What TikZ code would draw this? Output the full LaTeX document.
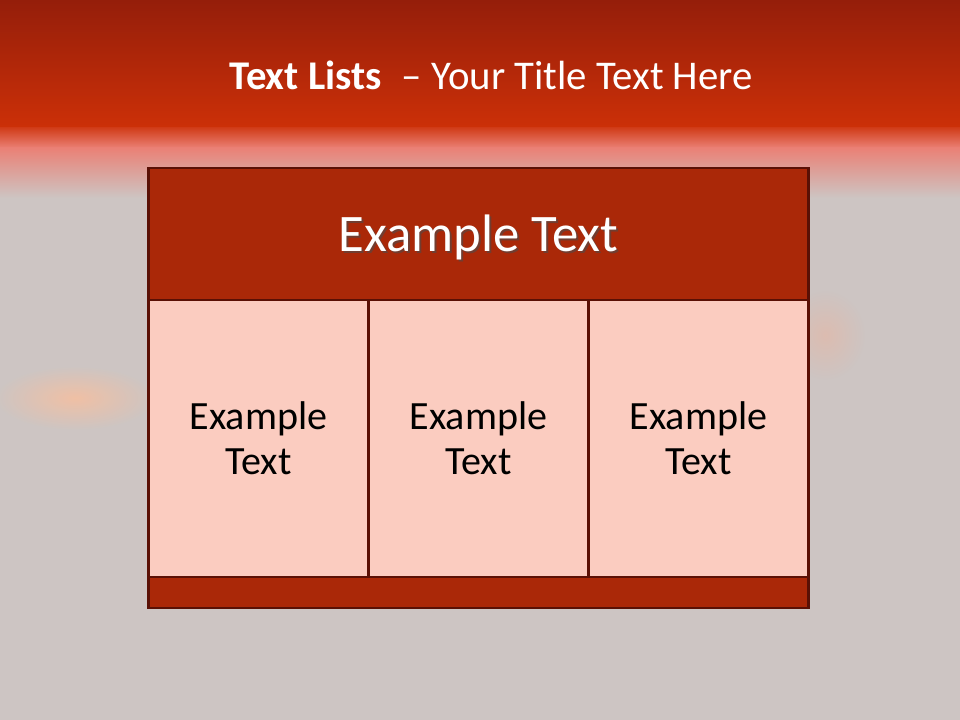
\documentclass[tikz,border=0pt]{standalone}
\usepackage{fontspec}
\setmainfont{Carlito}
\usetikzlibrary{positioning,calc}
\definecolor{fundo}{HTML}{CDC5C3}
\definecolor{topo}{HTML}{951E0A}
\definecolor{faixa}{HTML}{CC3008}
\definecolor{rosa}{HTML}{EA8075}
\definecolor{tijolo}{HTML}{AA2808}
\definecolor{borda}{HTML}{5A1005}
\definecolor{celula}{HTML}{FBCCC0}
\definecolor{brilho}{HTML}{FFBE98}

\begin{document}
\begin{tikzpicture}[
    x=0.025cm, y=-0.025cm,
    cabecalho/.style={
        rectangle,
        draw=borda,
        line width=2pt,
        fill=tijolo,
        minimum width=16.5cm,
        minimum height=3.3cm,
        inner sep=0pt
    },
    celulabox/.style={
        rectangle,
        draw=borda,
        line width=2pt,
        fill=celula,
        minimum width=5.5cm,
        minimum height=6.925cm,
        align=center,
        inner sep=0pt,
        font=\fontsize{28.5}{32}\selectfont
    },
    rodape/.style={
        rectangle,
        draw=borda,
        line width=2pt,
        fill=tijolo,
        minimum width=16.5cm,
        minimum height=0.775cm,
        inner sep=0pt
    },
    sombra/.style={text=black!70, opacity=0.6}
]
\useasboundingbox (0,0) rectangle (960,720);

% FUNDO E FAIXA DO TITULO
\fill[fundo] (0,0) rectangle (960,720);
\shade[top color=topo, bottom color=faixa] (0,0) rectangle (960,128);
\shade[top color=faixa!85!rosa, bottom color=rosa] (0,127.5) rectangle (960,148);
\shade[top color=rosa, bottom color=fundo] (0,147.5) rectangle (960,198);

% BRILHOS DO CEU
\shade[inner color=brilho, outer color=fundo, opacity=0.7] (75,398) ellipse [x radius=80, y radius=32];
\shade[inner color=brilho!70!rosa, outer color=fundo, opacity=0.35] (825,335) ellipse [x radius=40, y radius=45];

% TITULO
\node[text=white, font=\fontsize{29}{32}\selectfont] (titulo) at (491,75)
    {\textbf{Text Lists}\enspace – Your Title Text Here};

% TABELA
\node[cabecalho] (cabeca) at (478.5,234) {};
\node[sombra, font=\fontsize{37.5}{40}\selectfont] at ($(cabeca)+(2,5)$) {Example Text};
\node[text=white, font=\fontsize{37.5}{40}\selectfont] (cabecatexto) at ($(cabeca)+(0,3)$) {Example Text};

\node[celulabox] (cel1) at (258.5,438.5) {Example\\Text};
\node[celulabox] (cel2) at (478.5,438.5) {Example\\Text};
\node[celulabox] (cel3) at (698.5,438.5) {Example\\Text};

\node[rodape] (base) at (478.5,592.5) {};

\end{tikzpicture}
\end{document}
